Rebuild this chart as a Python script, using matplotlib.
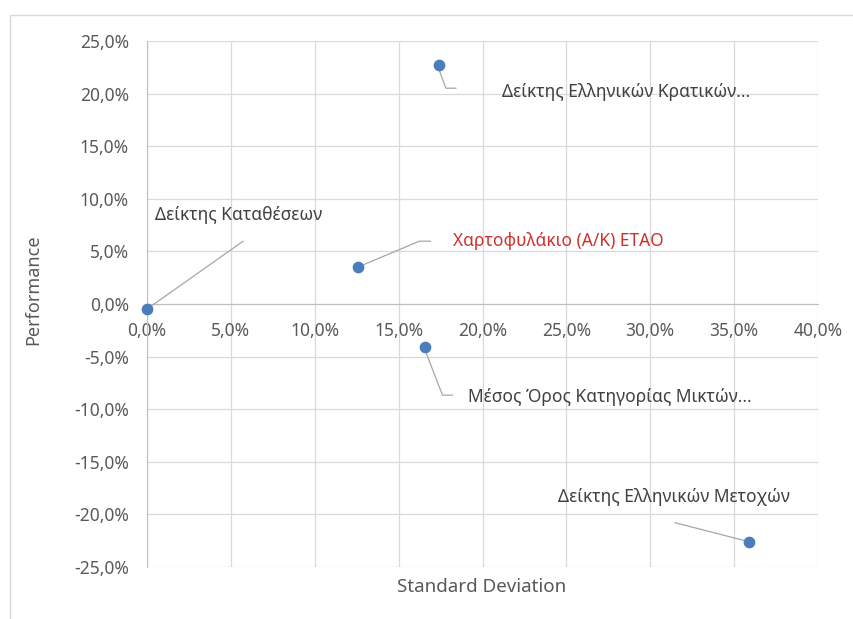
import matplotlib
matplotlib.use("Agg")
import matplotlib.pyplot as plt
from matplotlib.ticker import FuncFormatter, MultipleLocator
from matplotlib.patches import Rectangle

plt.rcParams['font.family'] = ['Noto Sans', 'DejaVu Sans']

# data (fractions)
names = ["Δείκτης Καταθέσεων", "Χαρτοφυλάκιο (Α/Κ) ΕΤΑΟ",
         "Δείκτης Ελληνικών Κρατικών...", "Μέσος Όρος Κατηγορίας Μικτών...",
         "Δείκτης Ελληνικών Μετοχών"]
std_dev = [0.000, 0.126, 0.174, 0.166, 0.359]
performance = [-0.005, 0.035, 0.227, -0.041, -0.226]

# label placement: leader vertices and text anchor, pixel offsets from the marker (y down)
leaders = [[(4, -3), (96, -68)],
           [(4, -2), (61, -26), (72, -26)],
           [(0, 4), (7, 23), (17, 23)],
           [(0, 4), (17, 48), (27, 48)],
           [(-4, -1), (-74, -19)]]
text_offsets = [(8, -94), (95, -26), (63, 27), (43, 50), (-191, -45)]
label_colors = ["#404040", "#d0312d", "#404040", "#404040", "#404040"]


def pct(v, pos):
    return f"{v * 100:.1f}%".replace(".", ",")


def main():
    fig = plt.figure(figsize=(8.54, 6.19), dpi=100)
    fig.patches.append(Rectangle((10 / 854, -0.1), 1.2, 1 - 15 / 619 + 0.1,
                                 transform=fig.transFigure, fill=False,
                                 edgecolor="#d9d9d9", lw=1))
    ax = fig.add_axes([147 / 854, 1 - 567 / 619, 671 / 854, 526 / 619])

    ax.set_xlim(0, 0.40)
    ax.set_ylim(-0.25, 0.25)
    ax.xaxis.set_major_locator(MultipleLocator(0.05))
    ax.yaxis.set_major_locator(MultipleLocator(0.05))
    ax.xaxis.set_major_formatter(FuncFormatter(pct))
    ax.yaxis.set_major_formatter(FuncFormatter(pct))
    ax.grid(True, color="#d9d9d9", lw=0.9)
    ax.set_axisbelow(True)
    for s in ["top", "right"]:
        ax.spines[s].set_visible(False)
    ax.spines["bottom"].set_position(("data", 0))
    ax.spines["bottom"].set_color("#bfbfbf")
    ax.spines["left"].set_color("#bfbfbf")
    ax.tick_params(length=0, labelsize=12.5, colors="#595959")
    ax.tick_params(axis="x", pad=13)
    ax.tick_params(axis="y", pad=13)

    ax.scatter(std_dev, performance, s=55, color="#4a7ebb", zorder=4,
               clip_on=False)

    fig.canvas.draw()
    to_px = ax.transData.transform
    to_data = ax.transData.inverted().transform
    for i in range(len(names)):
        px, py = to_px((std_dev[i], performance[i]))
        pts = [to_data((px + dx, py - dy)) for dx, dy in leaders[i]]
        ax.plot([p[0] for p in pts], [p[1] for p in pts], color="#a6a6a6",
                lw=0.9, zorder=3, clip_on=False)
        tx, ty = to_data((px + text_offsets[i][0], py - text_offsets[i][1]))
        ax.text(tx, ty, names[i], color=label_colors[i], fontsize=12.5,
                ha="left", va="center", zorder=5)

    fig.text(33 / 854, 1 - 290 / 619, "Performance", rotation=90,
             ha="center", va="center", fontsize=13, color="#595959")
    fig.text(482 / 854, 1 - 587 / 619, "Standard Deviation",
             ha="center", va="center", fontsize=13.5, color="#595959")

    fig.savefig("out.png", dpi=100)


if __name__ == "__main__":
    main()
